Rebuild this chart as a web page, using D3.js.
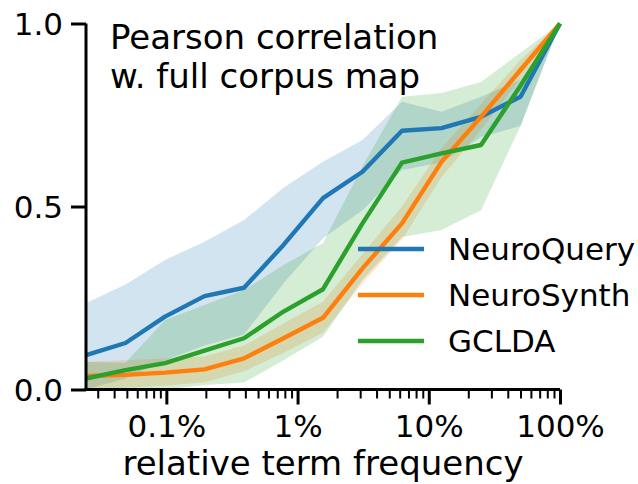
<!DOCTYPE html>
<html><head><meta charset="utf-8">
<script src="https://cdn.jsdelivr.net/npm/d3@7"></script>
<style>body{margin:0;background:#fff}text{font-family:"DejaVu Sans",sans-serif;fill:#000}</style>
</head><body>
<svg id="c" width="638" height="484"></svg>
<script>
// relative term frequency: 2^-12 ... 1
const freqs = [1/4096,1/2048,1/1024,1/512,1/256,1/128,1/64,1/32,1/16,1/8,1/4,1/2,1];
const nqMean = [0.094,0.127,0.199,0.255,0.278,0.395,0.523,0.595,0.707,0.714,0.745,0.800,1.0];
const nqHi   = [0.236,0.287,0.354,0.404,0.463,0.551,0.622,0.682,0.786,0.759,0.800,0.846,1.0];
const nqLo   = [0.000,0.030,0.080,0.120,0.150,0.290,0.413,0.490,0.600,0.620,0.690,0.720,1.0];
const nsMean = [0.037,0.040,0.046,0.055,0.085,0.140,0.196,0.331,0.454,0.622,0.745,0.873,1.0];
const nsHi   = [0.076,0.080,0.085,0.090,0.120,0.180,0.240,0.370,0.500,0.660,0.780,0.900,1.0];
const nsLo   = [0.005,0.005,0.010,0.020,0.050,0.100,0.155,0.290,0.410,0.580,0.710,0.850,1.0];
const gcMean = [0.030,0.053,0.072,0.106,0.140,0.213,0.274,0.454,0.620,0.645,0.668,0.830,1.0];
const gcHi   = [0.075,0.073,0.190,0.231,0.272,0.340,0.400,0.610,0.800,0.810,0.840,0.920,1.0];
const gcLo   = [0.000,0.000,0.000,0.012,0.019,0.080,0.144,0.300,0.417,0.436,0.490,0.720,1.0];
const seriesNames = ["NeuroQuery","NeuroSynth","GCLDA"];
const colors = ["#1f77b4","#ff7f0e","#2ca02c"];
const xTickVals = [0.001,0.01,0.1,1];
const xTickLabels = ["0.1%","1%","10%","100%"];
const yTickVals = [0,0.5,1];
const yTickLabels = ["0.0","0.5","1.0"];
const titleLines = ["Pearson correlation","w. full corpus map"];
const xLabel = "relative term frequency";

const series = [
  {mean:nqMean, lo:nqLo, hi:nqHi},
  {mean:nsMean, lo:nsLo, hi:nsHi},
  {mean:gcMean, lo:gcLo, hi:gcHi}
];

const svg = d3.select("#c");
const L=86, R=560, T=23.5, B=389.5;
const x = d3.scaleLog().domain([1/4096,1]).range([L,R]);
const y = d3.scaleLinear().domain([0,1]).range([B,T]);

const area = d3.area().x((d,i)=>x(freqs[i])).y0(d=>y(d[0])).y1(d=>y(d[1]));
const line = d3.line().x((d,i)=>x(freqs[i])).y(d=>y(d));

const g = svg.append("g");
series.forEach((s,k)=>{
  g.append("path").datum(s.lo.map((v,i)=>[v,s.hi[i]]))
   .attr("d",area).attr("fill",colors[k]).attr("fill-opacity",0.2).attr("stroke","none");
});
series.forEach((s,k)=>{
  g.append("path").datum(s.mean).attr("d",line).attr("fill","none")
   .attr("stroke",colors[k]).attr("stroke-width",4.4).attr("stroke-linejoin","round");
});

// axes
const minor = [];
for (let e=-4;e<=0;e++) for (let m=1;m<=9;m++){const v=m*Math.pow(10,e); if(v>=1/4096 && v<=1 && m!==1) minor.push(v);}
const xAxisMinor = d3.axisBottom(x).tickValues(minor).tickSize(9).tickFormat("");
const xAxis = d3.axisBottom(x).tickValues(xTickVals).tickSize(15).tickPadding(10)
  .tickFormat((d,i)=>xTickLabels[i]);
const yAxis = d3.axisLeft(y).tickValues(yTickVals).tickSize(15).tickPadding(8)
  .tickFormat((d,i)=>yTickLabels[i]);

const gxm = svg.append("g").attr("transform",`translate(0,${B})`).call(xAxisMinor);
gxm.select(".domain").remove();
gxm.selectAll("line").attr("stroke","#000").attr("stroke-width",2);
const gx = svg.append("g").attr("transform",`translate(0,${B})`).call(xAxis);
gx.select(".domain").attr("d",`M${L-1.5},0H${R}`).attr("stroke","#000").attr("stroke-width",3);
gx.selectAll("line").attr("stroke","#000").attr("stroke-width",3);
gx.selectAll("text").attr("font-size",31).attr("font-family","DejaVu Sans");
const gy = svg.append("g").attr("transform",`translate(${L},0)`).call(yAxis);
gy.select(".domain").attr("d",`M0,${B+1.5}V${T}`).attr("stroke","#000").attr("stroke-width",3);
gy.selectAll("line").attr("stroke","#000").attr("stroke-width",3);
gy.selectAll("text").attr("font-size",31).attr("font-family","DejaVu Sans").attr("dy","0.35em");

svg.append("text").attr("x",(L+R)/2).attr("y",475).attr("text-anchor","middle")
  .attr("font-size",34).text(xLabel);
titleLines.forEach((t,i)=>svg.append("text").attr("x",110).attr("y",49+i*39).attr("font-size",34).text(t));

// legend
seriesNames.forEach((n,i)=>{
  const ly = 249 + i*46;
  svg.append("line").attr("x1",358).attr("x2",424).attr("y1",ly).attr("y2",ly)
    .attr("stroke",colors[i]).attr("stroke-width",4.4);
  svg.append("text").attr("x",448).attr("y",ly).attr("dy","0.35em").attr("font-size",31).text(n);
});
</script>
</body></html>
